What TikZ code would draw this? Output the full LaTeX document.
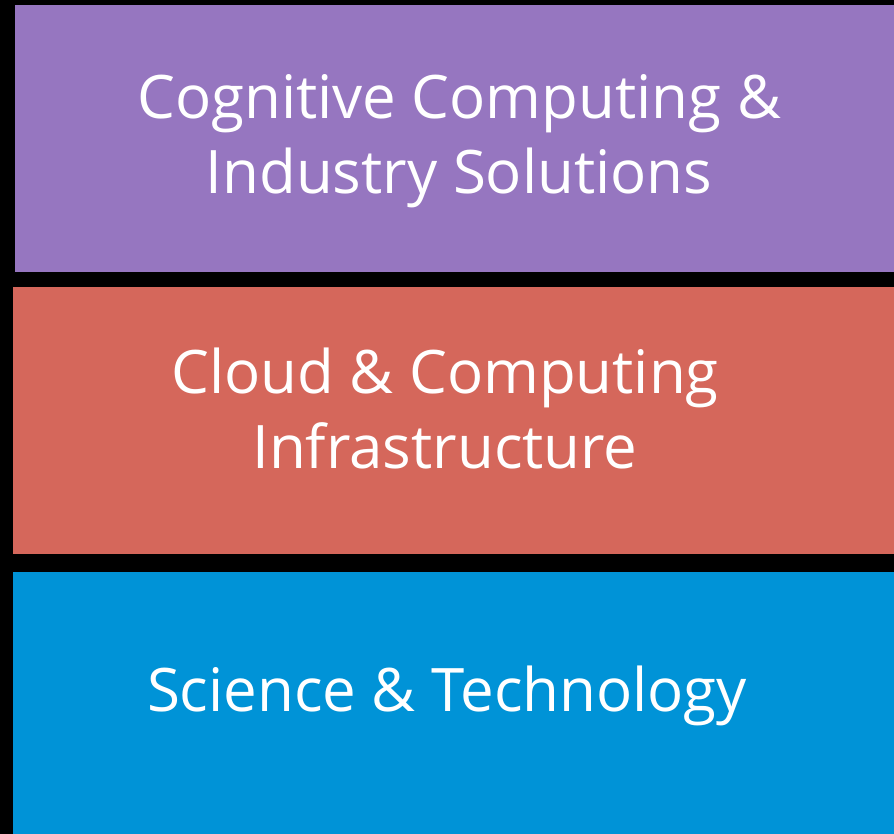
\documentclass[tikz,border=0pt]{standalone}
\usepackage{fontspec}
\setmainfont{Open Sans}
\definecolor{cogpurple}{HTML}{9676C0}
\definecolor{cloudred}{HTML}{D5675B}
\definecolor{sciblue}{HTML}{0093D7}
\begin{document}
\begin{tikzpicture}[x=1pt, y=-1pt]

		% Background
		\fill[black] (0, 0) rectangle (894, 834);

		% Layers
		\node[style={rectangle, fill=cogpurple, minimum width = 879pt, minimum height = 267pt, inner sep = 0pt}] (cogbox) at (454.5, 138.5) {};
		\node[style={rectangle, fill=cloudred, minimum width = 881pt, minimum height = 267pt, inner sep = 0pt}] (cloudbox) at (453.5, 420.5) {};
		\node[style={rectangle, fill=sciblue, minimum width = 881pt, minimum height = 262pt, inner sep = 0pt}] (scibox) at (453.5, 703) {};

		% Labels
		\node[white, style={align=center, inner sep = 0pt, font=\fontsize{60}{75}\selectfont}] (cog) at (459, 141) {Cognitive Computing \&\\Industry Solutions};
		\node[white, style={align=center, inner sep = 0pt, font=\fontsize{60}{75}\selectfont}] (cloud) at (445, 408) {Cloud \& Computing\\Infrastructure};
		\node[white, style={align=center, inner sep = 0pt, font=\fontsize{60}{75}\selectfont}] (sci) at (447, 696) {Science \& Technology};

	\end{tikzpicture}
\end{document}
